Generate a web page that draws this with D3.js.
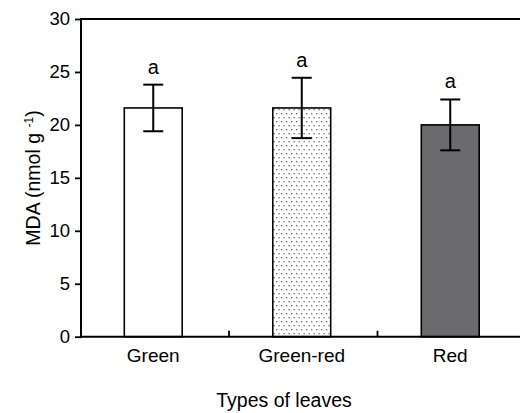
<!DOCTYPE html>
<html>
<head>
<meta charset="utf-8">
<script src="https://cdn.jsdelivr.net/npm/d3@7"></script>
<style>
    body { margin: 0; background: #fff; }
    svg text { font-family: "Liberation Sans", Arial, sans-serif; fill: #000; }
</style>
</head>
<body>
<div id="chart"></div>
<script>
// values
var categories = ["Green", "Green-red", "Red"];
var means = [21.6, 21.6, 20.0];
var errors = [2.2, 2.85, 2.4];
var letters = ["a", "a", "a"];
var yTicks = [0, 5, 10, 15, 20, 25, 30];

(() => {
    var width = 520;
    var height = 413;

    var svg = d3.select("#chart")
        .append("svg")
        .attr("width", width)
        .attr("height", height);

    // dotted fill for the middle bar
    var pat = svg.append("defs").append("pattern")
        .attr("id", "dots")
        .attr("patternUnits", "userSpaceOnUse")
        .attr("width", 5)
        .attr("height", 8);
    pat.append("rect").attr("width", 5).attr("height", 8).attr("fill", "#fff");
    pat.append("rect").attr("x", 1).attr("y", 1).attr("width", 1.3).attr("height", 1.3).attr("fill", "#707070");
    pat.append("rect").attr("x", 3.5).attr("y", 5).attr("width", 1.3).attr("height", 1.3).attr("fill", "#707070");

    var fills = ["#ffffff", "url(#dots)", "#6b6b6d"];

    var left = 81;
    var xScale = d3.scaleBand()
        .domain(categories)
        .range([79, 524.5])
        .paddingInner(0.61)
        .paddingOuter(0.305);

    var yScale = d3.scaleLinear()
        .domain([0, 30])
        .range([336.7, 19]);

    // bars
    svg.selectAll(".bar")
        .data(categories)
        .join("rect")
        .attr("class", "bar")
        .attr("x", function (d) { return xScale(d); })
        .attr("y", function (d, i) { return yScale(means[i]); })
        .attr("width", xScale.bandwidth())
        .attr("height", function (d, i) { return yScale(0) - yScale(means[i]); })
        .attr("fill", function (d, i) { return fills[i]; })
        .attr("stroke", "#000")
        .attr("stroke-width", 1.6);

    // error bars
    var cap = 10;
    categories.forEach(function (c, i) {
        var cx = xScale(c) + xScale.bandwidth() / 2;
        var top = yScale(means[i] + errors[i]);
        var bot = yScale(means[i] - errors[i]);
        var g = svg.append("g").attr("stroke", "#000").attr("stroke-width", 2);
        g.append("line").attr("x1", cx).attr("x2", cx).attr("y1", top).attr("y2", bot);
        g.append("line").attr("x1", cx - cap).attr("x2", cx + cap).attr("y1", top).attr("y2", top);
        g.append("line").attr("x1", cx - cap).attr("x2", cx + cap).attr("y1", bot).attr("y2", bot);

        svg.append("text")
            .attr("x", cx)
            .attr("y", top - 11)
            .attr("text-anchor", "middle")
            .attr("font-size", "20px")
            .text(letters[i]);
    });

    // y axis
    var yAxis = svg.append("g")
        .attr("transform", "translate(" + left + ",0)")
        .call(d3.axisLeft(yScale).tickValues(yTicks).tickSize(6).tickPadding(5));
    yAxis.select(".domain").remove();
    yAxis.selectAll(".tick line").attr("stroke", "#000").attr("stroke-width", 1.8);
    yAxis.selectAll(".tick text")
        .attr("font-size", "18.5px")
        .attr("font-family", "Liberation Sans, Arial, sans-serif");

    // x axis labels
    var xAxis = svg.append("g")
        .attr("transform", "translate(0," + yScale(0) + ")")
        .call(d3.axisBottom(xScale).tickSize(0).tickPadding(12));
    xAxis.select(".domain").remove();
    xAxis.selectAll(".tick text")
        .attr("font-size", "19px")
        .attr("font-family", "Liberation Sans, Arial, sans-serif");

    // tick marks between categories, pointing inward
    var step = xScale.step();
    svg.selectAll(".divider")
        .data(categories.slice(1))
        .join("line")
        .attr("class", "divider")
        .attr("x1", function (d) { return xScale(d) + xScale.bandwidth() / 2 - step / 2 + 1.5; })
        .attr("x2", function (d) { return xScale(d) + xScale.bandwidth() / 2 - step / 2 + 1.5; })
        .attr("y1", yScale(0))
        .attr("y2", yScale(0) - 6)
        .attr("stroke", "#000")
        .attr("stroke-width", 1.8);

    // frame lines
    svg.append("line")
        .attr("x1", left).attr("x2", width)
        .attr("y1", yScale(0)).attr("y2", yScale(0))
        .attr("stroke", "#000").attr("stroke-width", 2);
    svg.append("line")
        .attr("x1", left).attr("x2", width)
        .attr("y1", yScale(30)).attr("y2", yScale(30))
        .attr("stroke", "#000").attr("stroke-width", 2);
    svg.append("line")
        .attr("x1", left).attr("x2", left)
        .attr("y1", yScale(30) - 1).attr("y2", yScale(0) + 1)
        .attr("stroke", "#000").attr("stroke-width", 2);

    // axis titles
    svg.append("text")
        .attr("x", 284)
        .attr("y", 407)
        .attr("text-anchor", "middle")
        .attr("font-size", "19.5px")
        .text("Types of leaves");

    var yTitle = svg.append("text")
        .attr("transform", "translate(40,178) rotate(-90)")
        .attr("text-anchor", "middle")
        .attr("font-size", "19.5px");
    yTitle.append("tspan").text("MDA (nmol g ");
    yTitle.append("tspan").attr("font-size", "12px").attr("dy", "-7").text("-1");
    yTitle.append("tspan").attr("dy", "7").text(")");
})();
</script>
</body>
</html>
